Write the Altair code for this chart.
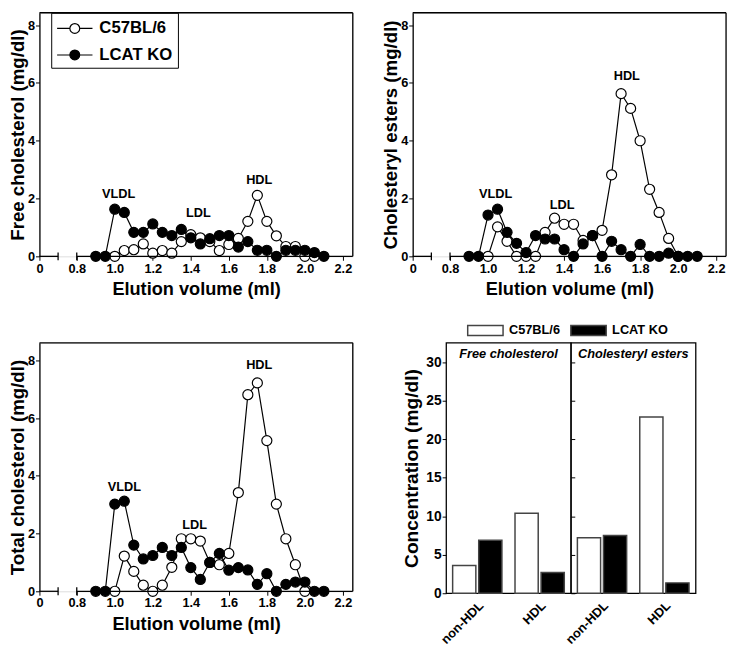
import altair as alt
import pandas as pd

FONT = "Liberation Sans"
STRAINS = ["C57BL/6", "LCAT KO"]
FILLS = ["white", "black"]

ELUTION = [0.9, 0.95, 1.0, 1.05, 1.1, 1.15, 1.2, 1.25, 1.3, 1.35, 1.4, 1.45, 1.5,
           1.55, 1.6, 1.65, 1.7, 1.75, 1.8, 1.85, 1.9, 1.95, 2.0, 2.05, 2.1]

FC_C57 = [None, None, 0.0, 0.2, 0.23, 0.43, 0.11, 0.2, 0.11, 0.51, 0.75, 0.64, 0.51,
          0.2, 0.41, 0.62, 1.21, 2.11, 1.21, 0.71, 0.34, 0.34, 0.0, 0.0, None]
FC_LCAT = [0.0, 0.0, 1.63, 1.52, 0.83, 0.83, 1.12, 0.83, 0.72, 0.93, 0.64, 0.43, 0.61,
           0.72, 0.72, 0.32, 0.51, 0.21, 0.21, 0.0, 0.21, 0.21, 0.21, 0.13, 0.0]
CE_C57 = [None, None, 0.0, 1.02, 0.52, 0.0, 0.0, 0.0, 0.83, 1.32, 1.11, 1.11, 0.55,
          0.72, 0.9, 2.82, 5.63, 5.12, 4.0, 2.32, 1.52, 0.62, 0.0, None, None]
CE_LCAT = [0.0, 0.0, 1.43, 1.63, 0.83, 0.45, 0.13, 0.72, 0.6, 0.6, 0.23, 0.0, 0.43,
           0.72, 0.0, 0.52, 0.23, 0.0, 0.41, 0.0, 0.0, 0.11, 0.0, 0.0, 0.0]
TC_C57 = [None, None, 0.0, 1.22, 0.69, 0.21, 0.0, 0.21, 0.83, 1.82, 1.82, 1.74, 1.0,
          0.92, 1.31, 3.42, 6.81, 7.22, 5.22, 3.02, 1.82, 0.92, 0.0, None, None]
TC_LCAT = [0.0, 0.0, 3.02, 3.12, 1.6, 1.12, 1.24, 1.52, 1.24, 1.52, 0.82, 0.41, 1.0,
           1.31, 0.73, 0.82, 0.74, 0.24, 0.61, 0.0, 0.24, 0.32, 0.32, 0.0, 0.0]

PEAKS = ["VLDL", "LDL", "HDL"]
FC_PEAK_X = [1.02, 1.44, 1.76]
FC_PEAK_Y = [2.15, 1.51, 2.64]
CE_PEAK_X = [1.04, 1.39, 1.73]
CE_PEAK_Y = [2.15, 1.79, 6.23]
TC_PEAK_X = [1.05, 1.42, 1.76]
TC_PEAK_Y = [3.62, 2.28, 7.83]

FRACTIONS = ["non-HDL", "HDL"]
BAR_FC_C57 = [3.6, 10.4]
BAR_FC_LCAT = [6.9, 2.7]
BAR_CE_C57 = [7.2, 22.9]
BAR_CE_LCAT = [7.5, 1.35]

X_TICKS = [0, 0.8, 1.0, 1.2, 1.4, 1.6, 1.8, 2.0, 2.2]

W = 319
BRK1, BRK2 = 19, 38
LINE_W = 1.3
LEG_TOP = 32   # bar legend height above the bar panels

# legend symbol: a line with a circle on it (unit = 10 px)
LINE_SYMBOL = ("M-1,0L0.3,0M1.3,0L2.6,0"
               "M1.3,0C1.3,0.276 1.076,0.5 0.8,0.5C0.524,0.5 0.3,0.276 0.3,0"
               "C0.3,-0.276 0.524,-0.5 0.8,-0.5C1.076,-0.5 1.3,-0.276 1.3,0Z")
BAR_SYMBOL = "M-1,-0.28L1,-0.28L1,0.28L-1,0.28Z"


def long_df(c57, lcat):
    rows = []
    for s, vals in ((STRAINS[0], c57), (STRAINS[1], lcat)):
        for x, v in zip(ELUTION, vals):
            if v is not None:
                rows.append({"vol": x, "conc": v, "strain": s})
    return pd.DataFrame(rows)


def line_panel(c57, lcat, px, py, ytitle, h, ymax, legend, pad_top=False):
    df = long_df(c57, lcat)
    one = pd.DataFrame({"k": [0]})
    xs = alt.Scale(domain=[0, 0.8, 2.252], range=[0, BRK2, W], zero=False, nice=False)
    ys = alt.Scale(domain=[0, ymax], zero=True, nice=False)
    xaxis = alt.Axis(values=X_TICKS,
                     labelExpr="datum.value == 0 ? '0' : format(datum.value, '.1f')",
                     domain=False, tickSize=4, tickColor="black", grid=False,
                     labelFont=FONT, labelFontSize=13, labelFontWeight="bold",
                     labelColor="black", labelPadding=2, labelFlush=False,
                     labelOverlap=False, labelBound=False, title="Elution volume (ml)",
                     titleFont=FONT, titleFontSize=18.5, titleFontWeight="bold",
                     titleColor="black", titlePadding=5)
    yaxis = alt.Axis(values=[0, 2, 4, 6, 8], domain=True, domainColor="black",
                     domainWidth=LINE_W, tickSize=4, tickColor="black", grid=False,
                     labelFont=FONT, labelFontSize=13, labelFontWeight="bold",
                     labelColor="black", labelPadding=1, labelFlush=False,
                     labelOverlap=False,
                     title=ytitle, titleFont=FONT, titleFontSize=19,
                     titleFontWeight="bold", titleColor="black", titlePadding=0)
    x = alt.X("vol:Q", scale=xs, axis=xaxis)
    y = alt.Y("conc:Q", scale=ys, axis=yaxis)
    if legend:
        leg = alt.Legend(orient="none", legendX=12, legendY=0, title=None,
                         direction="vertical", symbolType=LINE_SYMBOL,
                         symbolSize=400, symbolStrokeColor="black",
                         symbolStrokeWidth=1.2, symbolOpacity=1,
                         labelFont=FONT, labelFontSize=17, labelFontWeight="bold",
                         labelColor="black", labelOffset=22, rowPadding=8,
                         padding=5, strokeColor="black")
    else:
        leg = None
    lines = alt.Chart(df).mark_line(color="black", strokeWidth=1.2).encode(
        x=x, y=y, detail="strain:N")
    pts = alt.Chart(df).mark_point(filled=True, size=105, stroke="black",
                                   strokeWidth=1.2, opacity=1).encode(
        x=x, y=y,
        fill=alt.Fill("strain:N", scale=alt.Scale(domain=STRAINS, range=FILLS),
                      legend=leg))
    ann_df = pd.DataFrame({"lab": PEAKS, "vol": px, "conc": py})
    ann = alt.Chart(ann_df).mark_text(
        font=FONT, fontSize=13, fontWeight="bold", color="black",
        align="center", baseline="middle").encode(x=x, y=y, text="lab:N")
    rule = dict(color="black", strokeWidth=LINE_W)
    layers = [lines, pts, ann]
    layers.append(alt.Chart(one).mark_rule(**rule).encode(
        x=alt.value(0), x2=alt.value(W), y=alt.value(0)))
    layers.append(alt.Chart(one).mark_rule(**rule).encode(
        x=alt.value(W), y=alt.value(0), y2=alt.value(h)))
    layers.append(alt.Chart(one).mark_rule(**rule).encode(
        x=alt.value(0), x2=alt.value(BRK1), y=alt.value(h)))
    layers.append(alt.Chart(one).mark_rule(**rule).encode(
        x=alt.value(BRK2), x2=alt.value(W), y=alt.value(h)))
    for bx in (BRK1, BRK2):
        layers.append(alt.Chart(one).mark_rule(**rule).encode(
            x=alt.value(bx), y=alt.value(h - 4), y2=alt.value(h + 4)))
    if pad_top:
        # invisible spacer so this panel lines up with the bar panels' legend
        layers.append(alt.Chart(one).mark_rule(strokeOpacity=0).encode(
            x=alt.value(W / 2), y=alt.value(-LEG_TOP), y2=alt.value(0)))
    return alt.layer(*layers).properties(width=W, height=h)


BAR_W, BAR_H, BAR_MAX = 127, 255, 32.55


def bar_panel(c57, lcat, title, first):
    rows = []
    for s, vals in ((STRAINS[0], c57), (STRAINS[1], lcat)):
        for f, v in zip(FRACTIONS, vals):
            rows.append({"fraction": f, "strain": s, "value": v})
    df = pd.DataFrame(rows)
    if first:
        yaxis = alt.Axis(values=[0, 5, 10, 15, 20, 25, 30], domain=False,
                         tickSize=4, tickColor="black", grid=False,
                         labelFont=FONT, labelFontSize=14, labelFontWeight="bold",
                         labelColor="black", labelPadding=1,
                         title="Concentration (mg/dl)", titleFont=FONT,
                         titleFontSize=19.5, titleFontWeight="bold",
                         titleColor="black", titlePadding=5)
        leg = alt.Legend(orient="none", legendX=21, legendY=-LEG_TOP, title=None,
                         direction="horizontal", symbolType=BAR_SYMBOL,
                         symbolSize=1296, symbolStrokeColor="#444",
                         symbolStrokeWidth=1.5, symbolOpacity=1,
                         labelFont=FONT, labelFontSize=13, labelFontWeight="bold",
                         labelColor="black", labelOffset=5, columnPadding=7,
                         padding=0)
    else:
        yaxis = alt.Axis(values=[0, 5, 10, 15, 20, 25, 30], domain=False,
                         tickSize=4, tickColor="black", grid=False, labels=False,
                         offset=-4, title=None)
        leg = None
    bars = alt.Chart(df).mark_bar(stroke="#444", strokeWidth=1.5).encode(
        x=alt.X("fraction:N", sort=FRACTIONS,
                scale=alt.Scale(paddingInner=0.21, paddingOuter=0.105),
                axis=alt.Axis(title=None, labelAngle=-45, labelAlign="right",
                              labelBaseline="top", ticks=False, domain=False,
                              labelFont=FONT, labelFontSize=13,
                              labelFontWeight="bold", labelColor="black",
                              labelPadding=6)),
        xOffset=alt.XOffset("strain:N", sort=STRAINS,
                            scale=alt.Scale(paddingInner=0.11, paddingOuter=0)),
        y=alt.Y("value:Q", scale=alt.Scale(domain=[0, BAR_MAX], nice=False),
                axis=yaxis),
        fill=alt.Fill("strain:N", scale=alt.Scale(domain=STRAINS, range=FILLS),
                      legend=leg),
    )
    lab = alt.Chart(pd.DataFrame({"t": [title]})).mark_text(
        font=FONT, fontSize=13, fontWeight="bold", fontStyle="italic",
        color="black", align="center", baseline="middle").encode(
        x=alt.value(BAR_W / 2), y=alt.value(11), text="t:N")
    return alt.layer(bars, lab).properties(
        width=BAR_W, height=BAR_H,
        view=alt.ViewBackground(stroke="black", strokeWidth=LINE_W))


IND = dict(x="independent", y="independent", fill="independent")

p1 = line_panel(FC_C57, FC_LCAT, FC_PEAK_X, FC_PEAK_Y,
                "Free cholesterol (mg/dl)", 248, 8.43, True)
p2 = line_panel(CE_C57, CE_LCAT, CE_PEAK_X, CE_PEAK_Y,
                "Cholesteryl esters (mg/dl)", 248, 8.43, False)
p3 = line_panel(TC_C57, TC_LCAT, TC_PEAK_X, TC_PEAK_Y,
                "Total cholesterol (mg/dl)", 253, 8.61, False, pad_top=True)
fc = bar_panel(BAR_FC_C57, BAR_FC_LCAT, "Free cholesterol", True)
ce = bar_panel(BAR_CE_C57, BAR_CE_LCAT, "Cholesteryl esters", False)

top_row = alt.hconcat(p1, p2, spacing=27).resolve_scale(**IND)
bars = alt.hconcat(fc, ce, spacing=0, bounds="flush").resolve_scale(
    xOffset="independent", **IND)
bottom_row = alt.hconcat(p3, bars, spacing=46).resolve_scale(**IND)

chart = (alt.vconcat(top_row, bottom_row, spacing=12)
         .resolve_scale(**IND)
         .properties(padding={"left": 0, "top": -3, "right": 0, "bottom": 0})
         .configure_view(stroke=None)
         .configure_axis(labelOverlap=False)
         .configure(font=FONT))

chart.save("out.html", embed_options={"renderer": "svg", "actions": False})
